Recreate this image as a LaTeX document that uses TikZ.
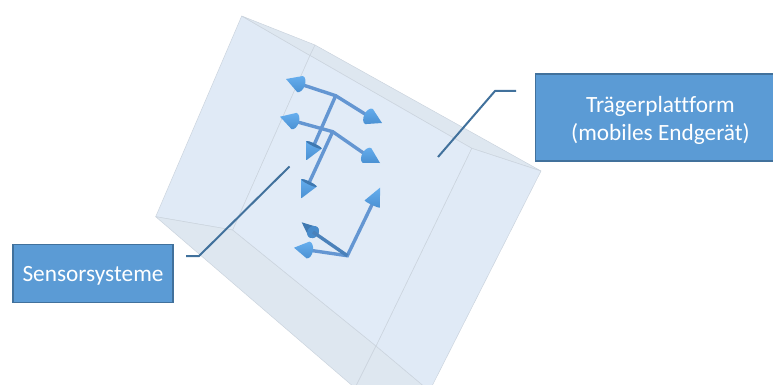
\documentclass[tikz,border=0pt]{standalone}
\usepackage{fontspec}
\setmainfont[RawFeature=-liga]{Carlito}
\usetikzlibrary{calc}
\definecolor{facec}{HTML}{E1EBF7}
\definecolor{sidec}{HTML}{E0EAF6}
\definecolor{bandc}{HTML}{DEE7F0}
\definecolor{edgec}{HTML}{CBD4DE}
\definecolor{boxc}{HTML}{5B9BD5}
\definecolor{boxe}{HTML}{41719C}
\definecolor{shaftc}{HTML}{6496D2}
\definecolor{conel}{HTML}{66AEEE}
\definecolor{coned}{HTML}{4A90D2}
\definecolor{capd}{HTML}{3F78B0}
\tikzset{
  face/.style={draw=edgec,line width=0.5pt,line join=round},
  shaft/.style={draw=shaftc,line width=3.4pt,line cap=round},
  leader/.style={draw=boxe,line width=2pt},
  labelbox/.style={draw=boxe,fill=boxc,line width=1.8pt,text=white,font=\fontsize{23.3}{28}\selectfont,align=center,inner sep=0pt,minimum height=87pt},
}
\newcommand{\conetop}{conel}
\newcommand{\conebot}{coned}
% #1 tip, #2 base centre, #3 radius, #4 cap depth, #5 cap options
\newcommand{\conearrow}[5]{%
  \pgfmathanglebetweenpoints{\pgfpointanchor{#2}{center}}{\pgfpointanchor{#1}{center}}%
  \let\coneang\pgfmathresult
  \begin{scope}[shift={(#2)},rotate=\coneang,x=1pt,y=1pt]
    \path let \p1=($(#1)-(#2)$) in
      [top color=\conetop,bottom color=\conebot,shading angle=0]
      (0,#3) arc[start angle=90,end angle=270,x radius=#4,y radius=#3] -- ({veclen(\x1,\y1)},0) -- cycle;
    \fill[#5] (0,0) ellipse[x radius=#4,y radius=#3];
  \end{scope}%
}
\begin{document}
\begin{tikzpicture}[x=1pt,y=-1pt]
\useasboundingbox (0,0) rectangle (773,385);
\clip (0,0) rectangle (773,385);
% box corners
\coordinate (A) at (241.7,16);
\coordinate (B) at (315,45);
\coordinate (C) at (310,55.5);
\coordinate (D) at (232.7,230);
\coordinate (E) at (155.7,216.7);
\coordinate (F) at (471.7,148.3);
\coordinate (G) at (376,346);
\coordinate (H) at (541,171);
\coordinate (J) at (426,388);
\coordinate (K) at (431,388);
\coordinate (M) at (355,388);
% faces
\filldraw[face,fill=sidec] (A) -- (C) -- (D) -- (E) -- cycle;
\filldraw[face,fill=bandc] (A) -- (B) -- (C) -- cycle;
\filldraw[face,fill=bandc] (B) -- (H) -- (F) -- (C) -- cycle;
\filldraw[face,fill=bandc] (E) -- (D) -- (G) -- (M) -- cycle;
\filldraw[face,fill=bandc] (G) -- (M) -- (J) -- cycle;
\filldraw[face,fill=sidec] (F) -- (H) -- (K) -- (J) -- (G) -- cycle;
\filldraw[face,fill=facec] (C) -- (F) -- (G) -- (D) -- cycle;
% sensor group 1
\coordinate (c1) at (335.7,95.7);
\coordinate (t1l) at (286,79);   \coordinate (b1l) at (300,84);
\coordinate (t1r) at (382,123);  \coordinate (b1r) at (369,116.5);
\coordinate (t1d) at (306.7,160);\coordinate (b1d) at (314,145);
\draw[shaft] (b1d) -- (c1);
\draw[shaft] (b1l) -- (c1) -- (b1r);
\conearrow{t1l}{b1l}{8.5}{5}{opacity=0}
\conearrow{t1r}{b1r}{8.5}{5}{opacity=0}
\conearrow{t1d}{b1d}{8.5}{1.5}{capd}
% sensor group 2
\coordinate (c2) at (332.7,131.7);
\coordinate (t2l) at (280,116.7);\coordinate (b2l) at (294,121);
\coordinate (t2r) at (380,163);  \coordinate (b2r) at (367,155.5);
\coordinate (t2d) at (301.7,198);\coordinate (b2d) at (309,183);
\draw[shaft] (b2d) -- (c2);
\draw[shaft] (b2l) -- (c2) -- (b2r);
\conearrow{t2l}{b2l}{8.5}{5}{opacity=0}
\conearrow{t2r}{b2r}{8.5}{5}{opacity=0}
\conearrow{t2d}{b2d}{8.5}{1.5}{capd}
% sensor group 3
\coordinate (c3) at (347.3,255.7);
\coordinate (t3u) at (380,187.7);\coordinate (b3u) at (372.3,204);
\coordinate (t3b) at (301.7,222.3);\coordinate (b3b) at (313,232);
\coordinate (t3l) at (294,247.7);\coordinate (b3l) at (308,250);
\draw[shaft] (b3u) -- (c3) -- (b3l);
\conearrow{t3u}{b3u}{8.5}{1}{opacity=0}
\conearrow{t3l}{b3l}{8.5}{5}{opacity=0}
{\renewcommand{\conetop}{capd}\renewcommand{\conebot}{capd}%
 \conearrow{t3b}{b3b}{6.5}{5.5}{coned!80!capd}}
\draw[shaft,draw=capd!70!shaftc,line cap=butt] (c3) -- (b3b);
% labels
\node[labelbox,minimum width=250pt] (traeger) at (660.5,117.5) {\rule{0pt}{21.5pt}Trägerplattform\\(mobiles Endgerät)};
\node[labelbox,minimum width=160pt,minimum height=58pt] (sensor) at (93,273.5) {\rule{0pt}{19.5pt}Sensorsysteme};
% leaders
\coordinate (tstart) at (516,91);
\coordinate (tbend) at (495,91);
\coordinate (tend) at (438,157);
\coordinate (sstart) at (186,256);
\coordinate (sbend) at (199,256);
\coordinate (send) at (289.5,166.5);
\draw[leader] (tstart) -- (tbend) -- (tend);
\draw[leader] (sstart) -- (sbend) -- (send);
\end{tikzpicture}
\end{document}
